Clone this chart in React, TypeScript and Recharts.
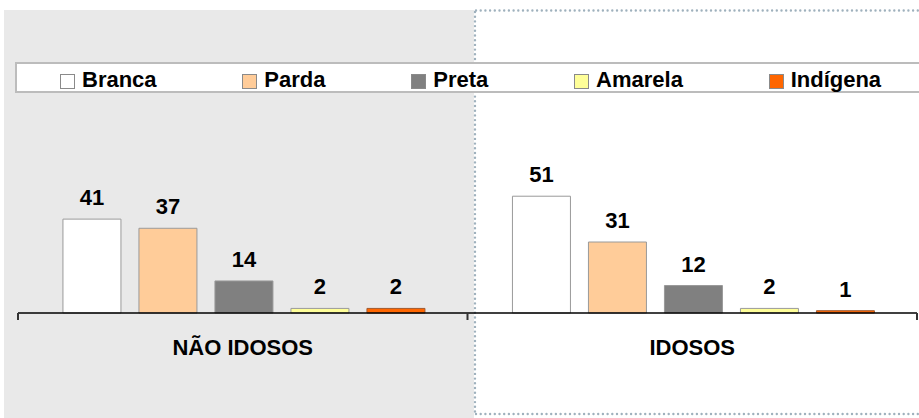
import React from 'react';
import { BarChart, Bar, XAxis, YAxis, LabelList } from 'recharts';

// chart data
const categories = ['NÃO IDOSOS', 'IDOSOS'];
const branca = [41, 51];
const parda = [37, 31];
const preta = [14, 12];
const amarela = [2, 2];
const indigena = [2, 1];

const seriesNames = ['Branca', 'Parda', 'Preta', 'Amarela', 'Indígena'];
const seriesKeys = ['branca', 'parda', 'preta', 'amarela', 'indigena'];
const seriesColors = ['#ffffff', '#ffcc99', '#808080', '#ffff99', '#ff6600'];

const W = 919;
const H = 418;
const FONT = "'Liberation Sans', Arial, sans-serif";
const MARGIN = { top: 175.6, right: 2, bottom: 45, left: 18 };

const data = categories.map((cat, i) => ({
    cat,
    branca: branca[i],
    parda: parda[i],
    preta: preta[i],
    amarela: amarela[i],
    indigena: indigena[i],
}));

// category label plus Excel-style tick marks at the band edges
const CategoryTick = (props: any) => {
    const { x, y, payload, index, width, visibleTicksCount } = props;
    const count = visibleTicksCount || categories.length;
    const band = (width || W - MARGIN.left - MARGIN.right) / count;
    const left = x - band / 2;
    const right = x + band / 2;
    return (
        <g>
            {index === 0 && <line x1={left} x2={left} y1={y} y2={y + 7} stroke="#333" strokeWidth={2} />}
            <line x1={right} x2={right} y1={y} y2={y + 7} stroke="#333" strokeWidth={2} />
            <text x={x} y={y + 42} textAnchor="middle" fill="#000" fontFamily={FONT} fontWeight="bold" fontSize={22}>
                {payload.value}
            </text>
        </g>
    );
};

const Background = () => (
    <svg width={W} height={H} style={{ position: 'absolute', left: 0, top: 0 }}>
        <rect x={4} y={10} width={470} height={408} fill="#e9e9e9" />
        <g stroke="#9fb1bd" strokeWidth={2.4} strokeLinecap="round" strokeDasharray="0 4.7">
            <line x1={476} y1={10.5} x2={919} y2={10.5} />
            <line x1={475} y1={12} x2={475} y2={414} />
            <line x1={476} y1={414} x2={919} y2={414} />
        </g>
    </svg>
);

const LegendBox = () => (
    <div
        style={{
            position: 'absolute',
            left: 15,
            top: 62,
            width: W - 15,
            height: 27,
            background: '#fff',
            borderTop: '2px solid #bcbcbc',
            borderBottom: '2px solid #bcbcbc',
            borderLeft: '2px solid #bcbcbc',
            boxSizing: 'content-box',
            display: 'flex',
            alignItems: 'flex-start',
            paddingLeft: 43,
            fontFamily: FONT,
            fontWeight: 'bold',
            fontSize: 22,
            lineHeight: '22px',
            color: '#000',
        }}
    >
        {seriesNames.map((name, i) => (
            <div key={name} style={{ display: 'flex', alignItems: 'flex-start', marginRight: i < seriesNames.length - 1 ? 85.75 : 0 }}>
                <span
                    style={{
                        display: 'inline-block',
                        width: 13,
                        height: 13,
                        marginTop: 10,
                        marginRight: 7,
                        background: seriesColors[i],
                        border: '1px solid #8a8a8a',
                    }}
                />
                <span style={{ marginTop: 5, whiteSpace: 'nowrap' }}>{name}</span>
            </div>
        ))}
    </div>
);

export default function App() {
    return (
        <div style={{ position: 'absolute', left: 0, top: 0, width: W, height: H, background: '#fff', overflow: 'hidden' }}>
            <Background />
            <div style={{ position: 'absolute', left: 0, top: 0 }}>
                <BarChart width={W} height={H} data={data} margin={MARGIN} barGap={18} barCategoryGap="10%">
                    <XAxis
                        dataKey="cat"
                        height={60}
                        interval={0}
                        tickLine={false}
                        tickSize={0}
                        tickMargin={0}
                        axisLine={{ stroke: '#000', strokeWidth: 1.5 }}
                        tick={<CategoryTick />}
                    />
                    <YAxis hide domain={[0, 60]} />
                    {seriesKeys.map((key, i) => (
                        <Bar
                            key={key}
                            dataKey={key}
                            name={seriesNames[i]}
                            fill={seriesColors[i]}
                            stroke={i === 4 ? '#a05a30' : '#9a9a9a'}
                            strokeWidth={1}
                            isAnimationActive={false}
                        >
                            <LabelList
                                dataKey={key}
                                position="top"
                                offset={14}
                                fill="#000"
                                fontFamily={FONT}
                                fontWeight="bold"
                                fontSize={22}
                            />
                        </Bar>
                    ))}
                </BarChart>
            </div>
            <LegendBox />
        </div>
    );
}
